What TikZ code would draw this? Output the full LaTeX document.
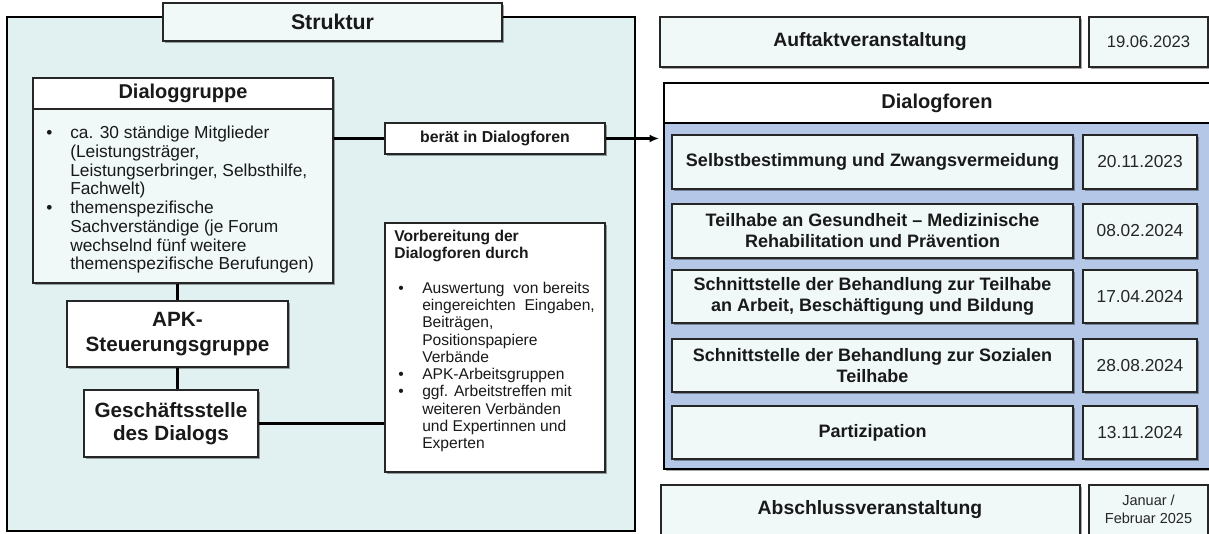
\documentclass[tikz,border=0pt]{standalone}
\usepackage{fontspec}
\setmainfont{Liberation Sans}
\usetikzlibrary{shadows,arrows.meta,fit}
\definecolor{frameC}{RGB}{225,241,241}
\definecolor{lightC}{RGB}{240,248,248}
\definecolor{blueC}{RGB}{180,199,231}
\newcommand\myfs[2]{\fontsize{#1}{#2}\selectfont}
\newcommand\bulA{\makebox[18pt][l]{\textbullet}}
\newcommand\bulB{\hspace*{3pt}\makebox[18pt][l]{\textbullet}}
\tikzset{
  shad/.style={drop shadow={shadow xshift=1.8pt,shadow yshift=-1.8pt,fill=black,opacity=0.35}},
  box/.style={draw=black!85, line width=0.8pt, inner sep=0pt, shad},
  wbox/.style={box, fill=white},
  lbox/.style={box, fill=lightC},
  conn/.style={line width=2pt, black},
  txt/.style={inner sep=0pt, text=black!90},
  ttl/.style={txt, font=\bfseries\myfs{#1}{#1}},
}
\begin{document}
\begin{tikzpicture}[x=0.75pt,y=-0.75pt]
\useasboundingbox (0,0) rectangle (1209,533);
\clip (0,0) rectangle (1209,533);
\fill[white] (0,0) rectangle (1209,533);
% ---------- Struktur ----------
\node[draw=black, line width=1.5pt, fill=frameC, inner sep=0pt, fit={(7,17)(635,531)}] (frame) {};
\node[lbox, fit={(163,3)(502,41)}] (struktur) {};
\node[ttl=16] (strukturtext) at (struktur.center) {Struktur};
% Dialoggruppe
\node[lbox, fit={(33,78)(333,283)}] (dg) {};
\node[draw=black!85, line width=0.8pt, fill=white, inner sep=0pt, fit={(33,78)(333,109)}] (dghead) {};
\node[ttl=15] (dgheadtext) at (dghead.center) {Dialoggruppe};
\node[txt, anchor=north west, align=left, font=\myfs{13}{14.04}] (dgtext) at (46,126) {%
\bulA ca. 30 ständige Mitglieder\\
\hspace*{18pt}(Leistungsträger,\\
\hspace*{18pt}Leistungserbringer, Selbsthilfe,\\
\hspace*{18pt}Fachwelt)\\
\bulA themenspezifische\\
\hspace*{18pt}Sachverständige (je Forum\\
\hspace*{18pt}wechselnd fünf weitere\\
\hspace*{18pt}themenspezifische Berufungen)};
% berät
\node[wbox, fit={(385,123)(605,154)}] (berat) {};
\node[ttl=11.9] (berattext) at (berat.center) {berät in Dialogforen};
% Vorbereitung
\node[wbox, fit={(385,223)(605,472)}] (vb) {};
\node[txt, anchor=north west, align=left, font=\myfs{11.7}{12.94}] (vbtext) at (394,230) {%
\textbf{Vorbereitung der}\\
\textbf{Dialogforen durch}\\
\mbox{}\\
\bulB Auswertung\ \ von bereits\\
\hspace*{21pt}eingereichten\ \ Eingaben,\\
\hspace*{21pt}Beiträgen,\\
\hspace*{21pt}Positionspapiere\\
\hspace*{21pt}Verbände\\
\bulB APK-Arbeitsgruppen\\
\bulB ggf. Arbeitstreffen mit\\
\hspace*{21pt}weiteren Verbänden\\
\hspace*{21pt}und Expertinnen und\\
\hspace*{21pt}Experten};
% APK and Geschäftsstelle
\node[wbox, fit={(67,301)(288,367)}] (apk) {};
\node[txt, align=center, font=\bfseries\myfs{15.5}{18.75}] (apktext) at (apk.center) {APK-\\Steuerungsgruppe};
\node[wbox, fit={(84,390)(258,457)}] (gs) {};
\node[txt, align=center, font=\bfseries\myfs{15.5}{17.1}] (gstext) at (gs.center) {Geschäftsstelle\\des Dialogs};
% ---------- right side ----------
\node[lbox, fit={(660,17)(1080,67)}] (auf) {};
\node[ttl=14.5] (auftext) at (auf.center) {Auftaktveranstaltung};
\node[lbox, fit={(1089,17)(1208,67)}] (aufd) {};
\node[txt, font=\myfs{12.5}{15}, text=black!85] (aufdtext) at (aufd.center) {19.06.2023};
\node[draw=black, line width=1.5pt, fill=blueC, inner sep=0pt, shad, fit={(664,83)(1213,469)}] (df) {};
\node[draw=black, line width=1.2pt, fill=white, inner sep=0pt, fit={(664,83)(1213,123)}] (dfhead) {};
\node[ttl=15] (dftitle) at (937,103) {Dialogforen};
\foreach \n/\ya/\yb/\rowtxt/\rowdate in {
  1/135/189/{Selbstbestimmung und Zwangsvermeidung}/20.11.2023,
  2/204/258/{Teilhabe an Gesundheit -- Medizinische\\Rehabilitation und Prävention}/08.02.2024,
  3/270/323/{Schnittstelle der Behandlung zur Teilhabe\\an Arbeit, Beschäftigung und Bildung}/17.04.2024,
  4/339/392/{Schnittstelle der Behandlung zur Sozialen\\Teilhabe}/28.08.2024,
  5/406/459/{Partizipation}/13.11.2024}{
  \node[lbox, fit={(672,\ya)(1073,\yb)}] (t\n) {};
  \node[txt, align=center, font=\bfseries\myfs{13.5}{15.7}] (tt\n) at (t\n.center) {\rowtxt};
  \node[lbox, fit={(1083,\ya)(1197,\yb)}] (d\n) {};
  \node[txt, font=\myfs{13}{15}, text=black!85] (dt\n) at (d\n.center) {\rowdate};
}
\node[lbox, fit={(661,485)(1080,548)}] (ab) {};
\node[ttl=14.5] (abtext) at (870,510) {Abschlussveranstaltung};
\node[lbox, fit={(1089,485)(1208,548)}] (abd) {};
\node[txt, align=center, font=\myfs{10.9}{13.3}, text=black!85] (abdtext) at (1148.5,509) {Januar /\\Februar 2025};
% ---------- connectors ----------
\draw[conn] (dg.east |- berat.west) -- (berat.west);
\draw[conn, -{Latex[length=7pt,width=6pt]}, shorten >=3pt] (berat.east) -- (berat.east -| df.west);
\draw[conn] (apk.north) -- (apk.north |- dg.south);
\draw[conn] (apk.south) -- (apk.south |- gs.north);
\draw[conn] (gs.east) -- (gs.east -| vb.west);
\end{tikzpicture}
\end{document}
